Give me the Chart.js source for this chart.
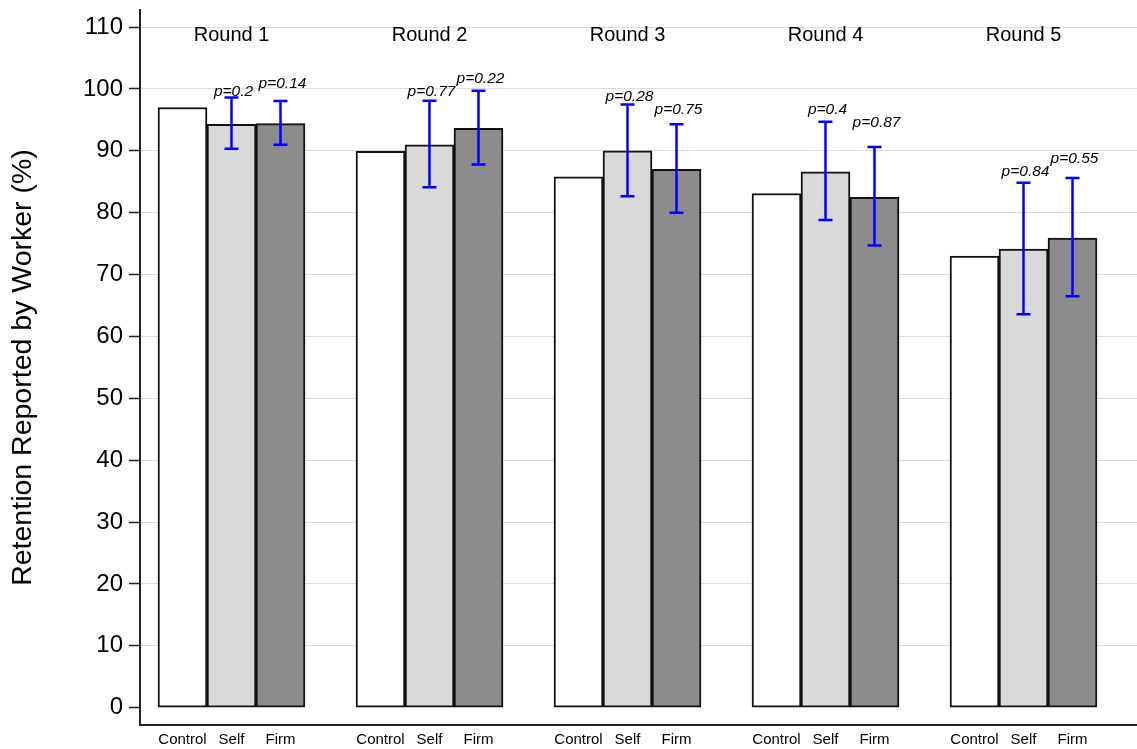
<!DOCTYPE html>
<html>
<head>
<meta charset="utf-8">
<script src="https://cdn.jsdelivr.net/npm/chart.js@4.4.1/dist/chart.umd.min.js"></script>
<style>
  html, body { margin: 0; padding: 0; background: #fff; }
  #wrap { width: 1137px; height: 749px; }
</style>
</head>
<body>
<div id="wrap"><canvas id="retentionChart"></canvas></div>
<script>
// data
const rounds = ['Round 1', 'Round 2', 'Round 3', 'Round 4', 'Round 5'];
const treatments = ['Control', 'Self', 'Firm'];

const controlMean = [97.0, 89.9, 85.8, 83.1, 73.0];
const selfMean = [94.3, 90.95, 90.0, 86.6, 74.1];
const firmMean = [94.4, 93.65, 87.0, 82.5, 75.9];

const selfLow = [90.35, 84.1, 82.65, 78.8, 63.6];
const selfHigh = [98.6, 98.1, 97.5, 94.7, 84.85];
const firmLow = [91.0, 87.8, 80.0, 74.7, 66.5];
const firmHigh = [98.06, 99.7, 94.3, 90.6, 85.6];

const selfP = ['0.2', '0.77', '0.28', '0.4', '0.84'];
const firmP = ['0.14', '0.22', '0.75', '0.87', '0.55'];
const selfPY = [99.5, 99.5, 98.7, 96.6, 86.6];
const firmPY = [100.8, 101.6, 96.6, 94.6, 88.7];

const yTicks = [0, 10, 20, 30, 40, 50, 60, 70, 80, 90, 100, 110];
const roundLabelY = 108.7;

const FONT = '"Liberation Sans", Arial, Helvetica, sans-serif';
const barOffset = 49 / 198; // one bar width in round units

// error bars, p-values and round headers
const annotate = {
  id: 'annotate',
  afterDatasetsDraw(chart) {
    const { ctx, scales: { x, y } } = chart;
    const bars = [
      null,
      { low: selfLow, high: selfHigh, p: selfP, py: selfPY },
      { low: firmLow, high: firmHigh, p: firmP, py: firmPY }
    ];
    ctx.save();
    bars.forEach((b, d) => {
      if (!b) return;
      const meta = chart.getDatasetMeta(d);
      meta.data.forEach((bar, i) => {
        const cx = bar.x;
        const yl = y.getPixelForValue(b.low[i]);
        const yh = y.getPixelForValue(b.high[i]);
        ctx.strokeStyle = '#0000ff';
        ctx.lineWidth = 2.5;
        ctx.beginPath();
        ctx.moveTo(cx, yl); ctx.lineTo(cx, yh);
        ctx.moveTo(cx - 7, yl); ctx.lineTo(cx + 7, yl);
        ctx.moveTo(cx - 7, yh); ctx.lineTo(cx + 7, yh);
        ctx.stroke();

        ctx.fillStyle = '#000';
        ctx.font = 'italic 15.5px ' + FONT;
        ctx.textAlign = 'center';
        ctx.textBaseline = 'middle';
        ctx.fillText('p=' + b.p[i], cx + 2, y.getPixelForValue(b.py[i]));
      });
    });

    ctx.font = '20px ' + FONT;
    ctx.fillStyle = '#000';
    ctx.textAlign = 'center';
    ctx.textBaseline = 'middle';
    rounds.forEach((r, i) => {
      ctx.fillText(r, x.getPixelForValue(i), y.getPixelForValue(roundLabelY));
    });
    ctx.restore();
  }
};

const toPoints = arr => arr.map((v, i) => ({ x: i, y: v }));

const ctx = document.getElementById('retentionChart').getContext('2d');

const chart = new Chart(ctx, {
  type: 'bar',
  data: {
    datasets: [
      {
        label: 'Control',
        data: toPoints(controlMean),
        backgroundColor: '#ffffff',
        borderColor: '#111',
        borderWidth: 2,
        borderSkipped: false
      },
      {
        label: 'Self',
        data: toPoints(selfMean),
        backgroundColor: '#d9d9d9',
        borderColor: '#111',
        borderWidth: 2,
        borderSkipped: false
      },
      {
        label: 'Firm',
        data: toPoints(firmMean),
        backgroundColor: '#8c8c8c',
        borderColor: '#111',
        borderWidth: 2,
        borderSkipped: false
      }
    ]
  },
  options: {
    responsive: true,
    maintainAspectRatio: false,
    animation: false,
    barThickness: 49,
    layout: { padding: { top: 10, right: 0, left: 0, bottom: 0 } },
    plugins: {
      legend: { display: false },
      tooltip: { enabled: false }
    },
    scales: {
      x: {
        type: 'linear',
        offset: false,
        min: -0.4621,
        max: 4.5732,
        grid: { display: false, drawTicks: false, offset: false },
        border: { display: true, color: '#222', width: 2 },
        afterBuildTicks: scale => {
          const t = [];
          rounds.forEach((r, i) => {
            [-1, 0, 1].forEach(k => t.push({ value: i + k * barOffset }));
          });
          scale.ticks = t;
        },
        afterFit: scale => {
          scale.height = 24;
          scale.paddingLeft = 0;
          scale.paddingRight = 0;
        },
        ticks: {
          autoSkip: false,
          maxRotation: 0,
          padding: 6,
          color: '#000',
          font: { family: FONT, size: 15 },
          callback: (val, idx) => treatments[idx % 3]
        }
      },
      y: {
        min: -2.8,
        max: 112.76,
        afterBuildTicks: scale => {
          scale.ticks = yTicks.map(v => ({ value: v }));
        },
        afterFit: scale => {
          scale.width = 140;
          scale.paddingTop = 0;
          scale.paddingBottom = 0;
        },
        grid: {
          color: c => (c.tick && c.tick.value === 0 ? 'rgba(0,0,0,0)' : '#dcdcdc'),
          lineWidth: 1,
          tickLength: 11,
          tickColor: '#222',
          tickWidth: 1.5
        },
        border: { display: true, color: '#222', width: 2 },
        ticks: {
          padding: 6,
          color: '#000',
          font: { family: FONT, size: 24 }
        },
        title: {
          display: true,
          text: 'Retention Reported by Worker (%)',
          color: '#000',
          font: { family: FONT, size: 28.5 },
          padding: { top: 6, bottom: 0 }
        }
      }
    }
  },
  plugins: [annotate]
});
</script>
</body>
</html>
